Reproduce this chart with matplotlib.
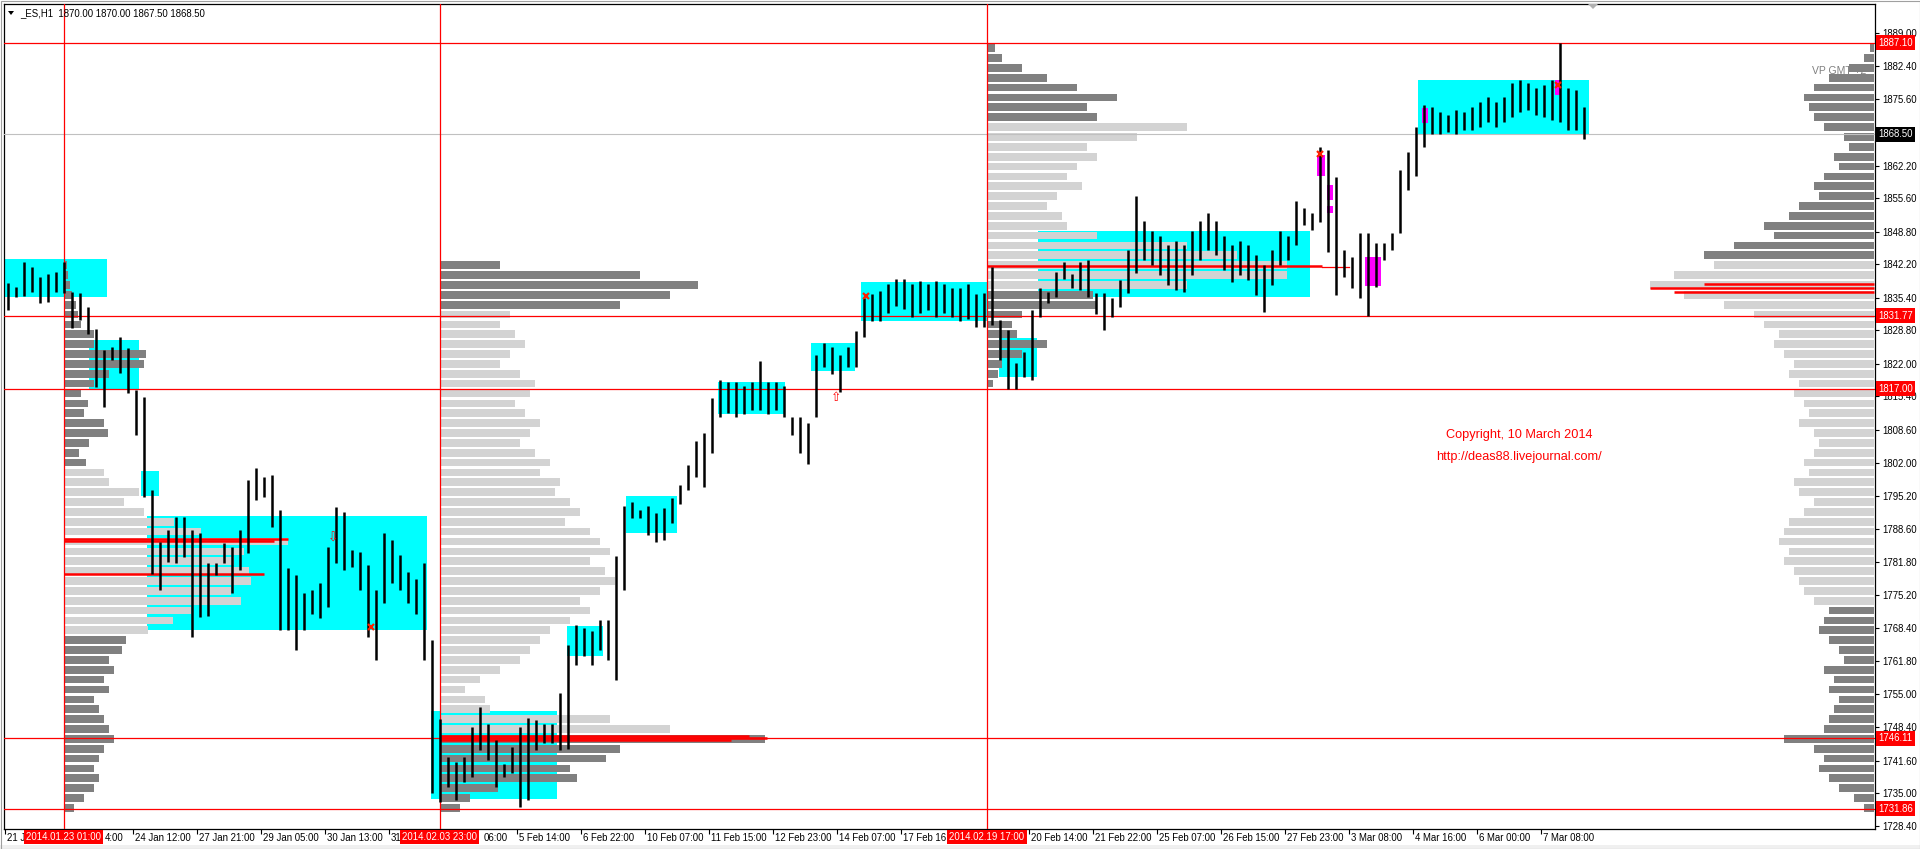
import matplotlib
matplotlib.use("Agg")
import matplotlib.pyplot as plt
import matplotlib.transforms as mtransforms
from matplotlib.patches import Rectangle, Polygon

plt.rcParams['font.family'] = ['Liberation Sans', 'DejaVu Sans']

# ------------------------------------------------------------------ data
symbol = "_ES,H1"
last_ohlc = [1870.00, 1870.00, 1867.50, 1868.50]
hours_per_seg = 4            # each drawn bar = 4 hourly bars (H / L)

seg_high = [
    1838.3, 1837.6, 1842.6, 1841.7, 1839.7, 1840.3, 1840.7, 1842.6, 1836.6, 1836.3,
    1833.6, 1829.0, 1824.8, 1825.5, 1827.4, 1825.2, 1816.7, 1815.3, 1796.4, 1786.0,
    1788.3, 1791.0, 1791.0, 1788.3, 1787.7, 1781.6, 1781.6, 1785.6, 1784.9, 1788.3,
    1798.5, 1800.8, 1799.1, 1799.5, 1792.4, 1780.6, 1779.2, 1775.5, 1776.2, 1777.5,
    1784.9, 1793.0, 1792.0, 1784.3, 1783.9, 1781.2, 1776.2, 1787.7, 1786.3, 1783.3,
    1779.9, 1778.5, 1781.6, 1766.0, 1750.0, 1742.4, 1741.4, 1742.4, 1748.5, 1752.5,
    1749.1, 1745.8, 1741.0, 1744.4, 1748.5, 1750.2, 1749.8, 1749.1, 1749.1, 1755.2,
    1765.0, 1769.0, 1768.5, 1767.8, 1770.0, 1770.0, 1783.0, 1793.1, 1794.1, 1792.4,
    1793.1, 1791.7, 1792.7, 1794.8, 1797.5, 1801.5, 1806.3, 1808.0, 1815.0, 1818.8,
    1818.3, 1818.3, 1817.5, 1818.3, 1822.5, 1818.3, 1818.3, 1817.5, 1811.3, 1811.3,
    1810.0, 1823.8, 1826.2, 1825.5, 1823.8, 1825.5, 1828.7, 1835.4, 1836.2, 1836.7,
    1838.2, 1839.2, 1839.2, 1838.2, 1838.7, 1838.2, 1838.7, 1838.2, 1837.4, 1837.4,
    1838.2, 1836.2, 1836.3, 1841.7, 1830.9, 1828.9, 1822.1, 1824.5, 1832.9, 1837.3,
    1836.6, 1840.7, 1842.7, 1840.3, 1842.7, 1843.0, 1836.3, 1836.3, 1835.3, 1839.0,
    1845.0, 1856.0, 1851.0, 1849.0, 1848.0, 1846.0, 1847.0, 1846.0, 1849.0, 1851.0,
    1852.5, 1851.0, 1848.0, 1846.0, 1847.0, 1846.0, 1844.0, 1842.0, 1845.0, 1849.0,
    1848.0, 1855.0, 1853.5, 1852.5, 1866.0, 1865.3, 1859.9, 1845.1, 1843.7, 1848.5,
    1848.5, 1846.4, 1846.4, 1848.5, 1861.3, 1865.0, 1870.0, 1874.5, 1874.0, 1873.0,
    1872.5, 1873.5, 1873.0, 1874.0, 1875.0, 1876.0, 1875.0, 1876.0, 1879.0, 1879.5,
    1879.0, 1878.0, 1878.5, 1879.5, 1887.1, 1878.0, 1877.5, 1874.0,
]
seg_low = [
    1832.9, 1835.6, 1835.8, 1836.6, 1834.3, 1834.6, 1836.6, 1836.3, 1829.2, 1830.9,
    1828.0, 1817.4, 1813.3, 1822.8, 1820.1, 1816.0, 1807.6, 1795.1, 1779.5, 1776.2,
    1781.9, 1781.6, 1782.9, 1766.7, 1770.7, 1770.8, 1779.2, 1781.6, 1775.5, 1780.2,
    1783.6, 1794.4, 1795.1, 1789.0, 1768.0, 1768.0, 1764.0, 1768.0, 1771.4, 1770.4,
    1772.8, 1781.6, 1780.2, 1780.9, 1776.2, 1766.7, 1762.0, 1773.5, 1777.5, 1776.2,
    1773.5, 1771.4, 1762.0, 1735.0, 1733.3, 1736.3, 1733.6, 1737.3, 1738.3, 1743.7,
    1741.7, 1736.3, 1738.3, 1739.0, 1732.2, 1733.6, 1743.7, 1745.1, 1745.1, 1743.7,
    1744.0, 1761.0, 1762.7, 1761.0, 1764.0, 1762.0, 1758.0, 1776.2, 1790.7, 1790.7,
    1787.3, 1786.0, 1786.3, 1789.7, 1793.5, 1796.5, 1799.0, 1797.0, 1804.0, 1811.3,
    1812.0, 1811.3, 1811.9, 1812.6, 1812.6, 1811.9, 1812.6, 1811.3, 1807.6, 1803.9,
    1801.8, 1811.3, 1821.3, 1820.0, 1816.3, 1821.3, 1821.3, 1827.5, 1830.6, 1830.6,
    1832.4, 1833.7, 1833.2, 1831.6, 1832.4, 1833.0, 1831.6, 1832.4, 1831.6, 1830.6,
    1831.1, 1829.4, 1829.5, 1829.9, 1822.8, 1817.0, 1817.0, 1819.4, 1818.7, 1831.6,
    1834.3, 1835.6, 1839.3, 1837.3, 1837.0, 1835.6, 1832.2, 1828.9, 1831.6, 1833.6,
    1836.3, 1840.5, 1843.0, 1842.0, 1840.0, 1838.0, 1837.0, 1836.5, 1840.0, 1843.0,
    1845.0, 1844.0, 1841.0, 1838.5, 1840.0, 1839.0, 1836.0, 1832.5, 1838.0, 1842.0,
    1843.0, 1846.0, 1850.1, 1849.1, 1850.8, 1844.7, 1835.9, 1839.7, 1837.3, 1835.3,
    1831.8, 1837.6, 1843.0, 1845.1, 1848.5, 1857.2, 1860.0, 1866.0, 1868.5, 1868.5,
    1869.0, 1868.5, 1869.5, 1869.5, 1870.0, 1871.0, 1870.0, 1871.0, 1872.0, 1873.0,
    1873.5, 1872.5, 1872.0, 1871.5, 1871.0, 1869.5, 1869.5, 1867.5,
]

# price axis labels (MetaTrader style); 1868.80 is covered by the last-price tag
ytick_values = [1889.00, 1882.40, 1875.60, 1868.80, 1862.20, 1855.60, 1848.80, 1842.20,
                1835.40, 1828.80, 1822.00, 1815.40, 1808.60, 1802.00, 1795.20, 1788.60,
                1781.80, 1775.20, 1768.40, 1761.80, 1755.00, 1748.40, 1741.60, 1735.00,
                1728.40]
ytick_hidden = [1868.80]
# time axis: one tick every 32 hourly bars; visible part of each label
xtick_step = 32
xtick_labels = ["21 J", "4:00", "24 Jan 12:00", "27 Jan 21:00", "29 Jan 05:00",
                "30 Jan 13:00", "31", "06:00", "5 Feb 14:00", "6 Feb 22:00",
                "10 Feb 07:00", "11 Feb 15:00", "12 Feb 23:00", "14 Feb 07:00", "17 Feb 16:",
                "", "20 Feb 14:00", "21 Feb 22:00", "25 Feb 07:00", "26 Feb 15:00",
                "27 Feb 23:00", "3 Mar 08:00", "4 Mar 16:00", "6 Mar 00:00", "7 Mar 08:00"]
xtick_tail = ["4:00", "06:00"]   # labels whose head is covered by a date tag

session_bar = [29.5, 217.5, 491.2]
session_labels = ["2014.01.23 01:00", "2014.02.03 23:00", "2014.02.19 17:00"]
level_lines = [1887.10, 1831.77, 1817.00, 1746.11, 1731.86]
current_price = 1868.50

# zones (bar index start/end, price low/high)
cyan_start = [-0.2, 42.2, 68.2, 71.1, 213.2, 281.0, 310.5, 356.5, 403.0, 428.0, 497.2, 516.8, 706.7]
cyan_end = [51.0, 67.2, 77.2, 211.1, 276.4, 299.0, 336.0, 390.2, 425.0, 491.2, 516.0, 652.7, 792.2]
cyan_low = [1835.5, 1816.9, 1795.3, 1768.0, 1733.8, 1762.7, 1787.7, 1811.9, 1820.5, 1830.7, 1819.4, 1835.6, 1868.4]
cyan_high = [1843.2, 1826.8, 1800.3, 1791.2, 1751.6, 1768.9, 1795.2, 1818.3, 1826.2, 1838.6, 1827.2, 1848.9, 1879.6]

mag_start = [656.4, 661.0, 661.0, 680.2, 708.5, 775.0]
mag_end = [660.2, 664.4, 664.4, 688.2, 711.5, 778.0]
mag_low = [1860.1, 1855.2, 1852.6, 1837.8, 1870.9, 1876.4]
mag_high = [1864.3, 1858.3, 1854.1, 1843.7, 1873.9, 1879.6]

# volume profiles (row price, volume in chart pixels)
p1_levels = list(range(1842, 1731, -2))
p1_vol = [3, 4, 6, 8, 12, 14, 17, 30, 30, 82, 80, 45, 30, 17, 24, 20, 40, 44, 25, 15,
          22, 40, 45, 75, 60, 80, 110, 137, 224, 180, 170, 185, 187, 167, 177, 127, 109, 84, 62, 58,
          45, 50, 40, 45, 30, 35, 40, 45, 50, 40, 35, 30, 35, 30, 20, 10]
p1_va = (1767, 1801)
p2_levels = list(range(1842, 1731, -2))
p2_vol = [60, 200, 258, 230, 180, 70, 60, 75, 85, 70, 60, 80, 95, 90, 75, 85, 100, 90, 80, 95,
          110, 100, 120, 115, 130, 140, 125, 150, 160, 170, 150, 165, 175, 160, 140, 150, 130, 110, 100, 90,
          80, 60, 40, 25, 45, 50, 170, 230, 325, 180, 166, 130, 137, 58, 30, 20]
p2_va = (1747, 1833)
p3_levels = list(range(1886, 1817, -2))
p3_vol = [8, 15, 35, 60, 90, 130, 100, 110, 200, 150, 100, 110, 90, 80, 95, 70, 60, 75, 80, 110,
          200, 250, 300, 300, 200, 106, 110, 35, 25, 30, 60, 35, 15, 11, 6]
p3_va = (1837, 1871)
p4_levels = list(range(1886, 1731, -2))
p4_vol = [4, 10, 25, 45, 60, 70, 65, 60, 50, 30, 25, 40, 35, 50, 60, 55, 75, 85, 110, 100,
          140, 170, 160, 200, 224, 190, 150, 120, 110, 95, 100, 90, 80, 85, 75, 80, 70, 65, 75, 60,
          55, 60, 70, 65, 80, 75, 60, 70, 85, 90, 95, 85, 90, 80, 75, 70, 60, 45, 50, 55,
          45, 35, 30, 50, 40, 45, 35, 40, 45, 50, 90, 60, 50, 55, 45, 35, 20, 10]
p4_va = (1773, 1843)

# point of control lines: price, profile number, length (chart pixels)
poc_price = [1786.5, 1786.1, 1779.4, 1746.6, 1746.1, 1745.8, 1841.9, 1838.2, 1837.3, 1836.5]
poc_profile = [1, 1, 1, 2, 2, 2, 3, 4, 4, 4]
poc_len = [224, 210, 200, 309, 327, 291, 335, 170, 224, 200]

# signal markers: bar index, price, glyph
mark_bar = [183.2, 164.4, 415.9, 657.7, 776.5, 430.5]
mark_price = [1768.7, 1786.6, 1815.1, 1864.5, 1878.6, 1835.8]
mark_glyph = ["x", "down", "up", "x", "x", "x"]

# ------------------------------------------------------------------ figure
W, H = 1920, 849
fig = plt.figure(figsize=(19.2, 8.49), dpi=100)
fig.patch.set_facecolor("white")
L, R, T, B = 4, 1875, 4, 829
ax = fig.add_axes([L / W, 1 - B / H, (R - L) / W, (B - T) / H])
PX0, PXB = 4.6, 2.0      # x pixel of bar 0, pixels per bar
ax.set_xlim((L - PX0) / PXB, (R - PX0) / PXB)
ax.set_ylim(1727.73, 1894.94)
ax.set_facecolor("white")
for s in ax.spines.values():
    s.set_color("black")
    s.set_linewidth(0.9)

px2bar = 1.0 / PXB
DARK, LIGHT, CYAN, MAG = "#808080", "#d3d3d3", "#00ffff", "#ff00ff"

# zones
for x0, x1, lo, hi in zip(cyan_start, cyan_end, cyan_low, cyan_high):
    ax.add_patch(Rectangle((x0, lo), x1 - x0, hi - lo, fc=CYAN, ec="none", zorder=1))

# profiles
def draw_profile(levels, vols, anchor, va, direction=1):
    for lv, v in zip(levels, vols):
        c = LIGHT if va[0] <= lv <= va[1] else DARK
        w = v * px2bar
        left = anchor if direction > 0 else anchor - w
        ax.add_patch(Rectangle((left, lv - 0.78), w, 1.56, fc=c, ec="none", zorder=2))

right_anchor = (1874.3 - PX0) / PXB
anchors = {1: session_bar[0], 2: session_bar[1], 3: session_bar[2], 4: right_anchor}
draw_profile(p1_levels, p1_vol, anchors[1], p1_va)
draw_profile(p2_levels, p2_vol, anchors[2], p2_va)
draw_profile(p3_levels, p3_vol, anchors[3], p3_va)
draw_profile(p4_levels, p4_vol, anchors[4], p4_va, direction=-1)

for p, prof, ln in zip(poc_price, poc_profile, poc_len):
    a = anchors[prof]
    if prof == 4:
        ax.plot([a - ln * px2bar, a], [p, p], color="red", lw=1.8, zorder=3, solid_capstyle="butt")
    else:
        ax.plot([a, a + ln * px2bar], [p, p], color="red", lw=1.8, zorder=3, solid_capstyle="butt")
# thin continuation of the third POC
ax.plot([anchors[3] + 335 * px2bar, anchors[3] + 362 * px2bar], [1841.6, 1841.6],
        color="red", lw=0.9, zorder=3)

# magenta zones
for x0, x1, lo, hi in zip(mag_start, mag_end, mag_low, mag_high):
    ax.add_patch(Rectangle((x0, lo), x1 - x0, hi - lo, fc=MAG, ec="none", zorder=3))

# level lines
for lv in level_lines:
    ax.axhline(lv, color="red", lw=0.9, zorder=3.5)
ax.axhline(current_price, color="#c0c0c0", lw=0.8, zorder=3.5)
for sb in session_bar:
    ax.axvline(sb, color="red", lw=0.9, zorder=3.5)

# price bars
xs = [j * hours_per_seg + 1.5 for j in range(len(seg_high))]
ax.vlines(xs, seg_low, seg_high, color="black", lw=1.8, zorder=4)

# markers
for mb, mp, g in zip(mark_bar, mark_price, mark_glyph):
    if g == "x":
        ax.plot([mb], [mp], marker="x", color="#ff2000", ms=5, mew=1.6, zorder=5)
    elif g == "up":
        ax.text(mb, mp, "\u21e7", color="red", fontsize=9, ha="center", va="center",
                family="DejaVu Sans", zorder=5)
    else:
        ax.text(mb, mp, "\u21e9", color="red", fontsize=9, ha="center", va="center",
                family="DejaVu Sans", zorder=5)

# ------------------------------------------------------------------ axes text
FS = 6.9
ax.set_yticks(ytick_values)
ax.set_yticklabels(["" if v in ytick_hidden else "%.2f" % v for v in ytick_values])
ax.yaxis.tick_right()
ax.tick_params(axis="y", direction="out", length=3, width=0.8, pad=2.5, labelsize=FS)
xt = [k * xtick_step for k in range(len(xtick_labels))]
ax.set_xticks(xt)
ax.set_xticklabels([])
ax.tick_params(axis="x", direction="out", length=3.5, width=0.8)

tx = mtransforms.blended_transform_factory(ax.transData, ax.transAxes)
ty = mtransforms.blended_transform_factory(ax.transAxes, ax.transData)
off_x = mtransforms.ScaledTranslation(2 / 100, -4 / 100, fig.dpi_scale_trans)
off_tail = mtransforms.ScaledTranslation(55 / 100, -4 / 100, fig.dpi_scale_trans)
for x, lab in zip(xt, xtick_labels):
    if not lab:
        continue
    if lab in xtick_tail:
        ax.text(x, 0, lab, transform=tx + off_tail, ha="right", va="top", fontsize=FS,
                clip_on=False, zorder=6)
    else:
        ax.text(x, 0, lab, transform=tx + off_x, ha="left", va="top", fontsize=FS,
                clip_on=False, zorder=6)

off_s = mtransforms.ScaledTranslation(0, -3 / 100, fig.dpi_scale_trans)
for sb, lab in zip(session_bar, session_labels):
    ax.text(sb, 0, lab, transform=tx + off_s, ha="center", va="top", fontsize=FS,
            color="white", clip_on=False, zorder=8,
            bbox=dict(boxstyle="square,pad=0.22", fc="red", ec="none"))

off_r = mtransforms.ScaledTranslation(3 / 100, 0, fig.dpi_scale_trans)
for lv in level_lines:
    ax.text(1, lv, "%.2f" % lv, transform=ty + off_r, ha="left", va="center", fontsize=FS,
            color="white", clip_on=False, zorder=8,
            bbox=dict(boxstyle="square,pad=0.25", fc="red", ec="none"))
ax.text(1, current_price, "%.2f" % current_price, transform=ty + off_r, ha="left", va="center",
        fontsize=FS, color="white", clip_on=False, zorder=8,
        bbox=dict(boxstyle="square,pad=0.25", fc="black", ec="none"))

# header
fig.text(20 / W, 1 - 13 / H, "%s  %.2f %.2f %.2f %.2f" % (symbol, *last_ohlc),
         fontsize=FS, ha="left", va="center", color="black")
fig.patches.append(Polygon([[8 / W, 1 - 11 / H], [14 / W, 1 - 11 / H], [11 / W, 1 - 15 / H]],
                           closed=True, fc="black", ec="none", transform=fig.transFigure))
fig.patches.append(Polygon([[1588 / W, 1 - 4 / H], [1598 / W, 1 - 4 / H], [1593 / W, 1 - 9 / H]],
                           closed=True, fc="#b0b0b0", ec="none", transform=fig.transFigure))

fig.text(1866 / W, 1 - 71 / H, "VP GMT +2", fontsize=7.5, ha="right", va="center", color="#808080")
fig.text(1519 / W, 1 - 435 / H, "Copyright, 10 March 2014", fontsize=9.2, ha="center",
         va="center", color="red")
fig.text(1519 / W, 1 - 457 / H, "http://deas88.livejournal.com/", fontsize=9.2, ha="center",
         va="center", color="red")

# window frame
fig.patches.append(Rectangle((0, 0), 1, 4 / H, fc="#f0f0f0", ec="none", transform=fig.transFigure))
fig.patches.append(Rectangle((0.5 / W, 0.5 / H), 1 - 1 / W, 1 - 1 / H, fc="none", ec="#a0a0a0",
                             lw=0.8, transform=fig.transFigure))

fig.savefig("out.png", dpi=100)
